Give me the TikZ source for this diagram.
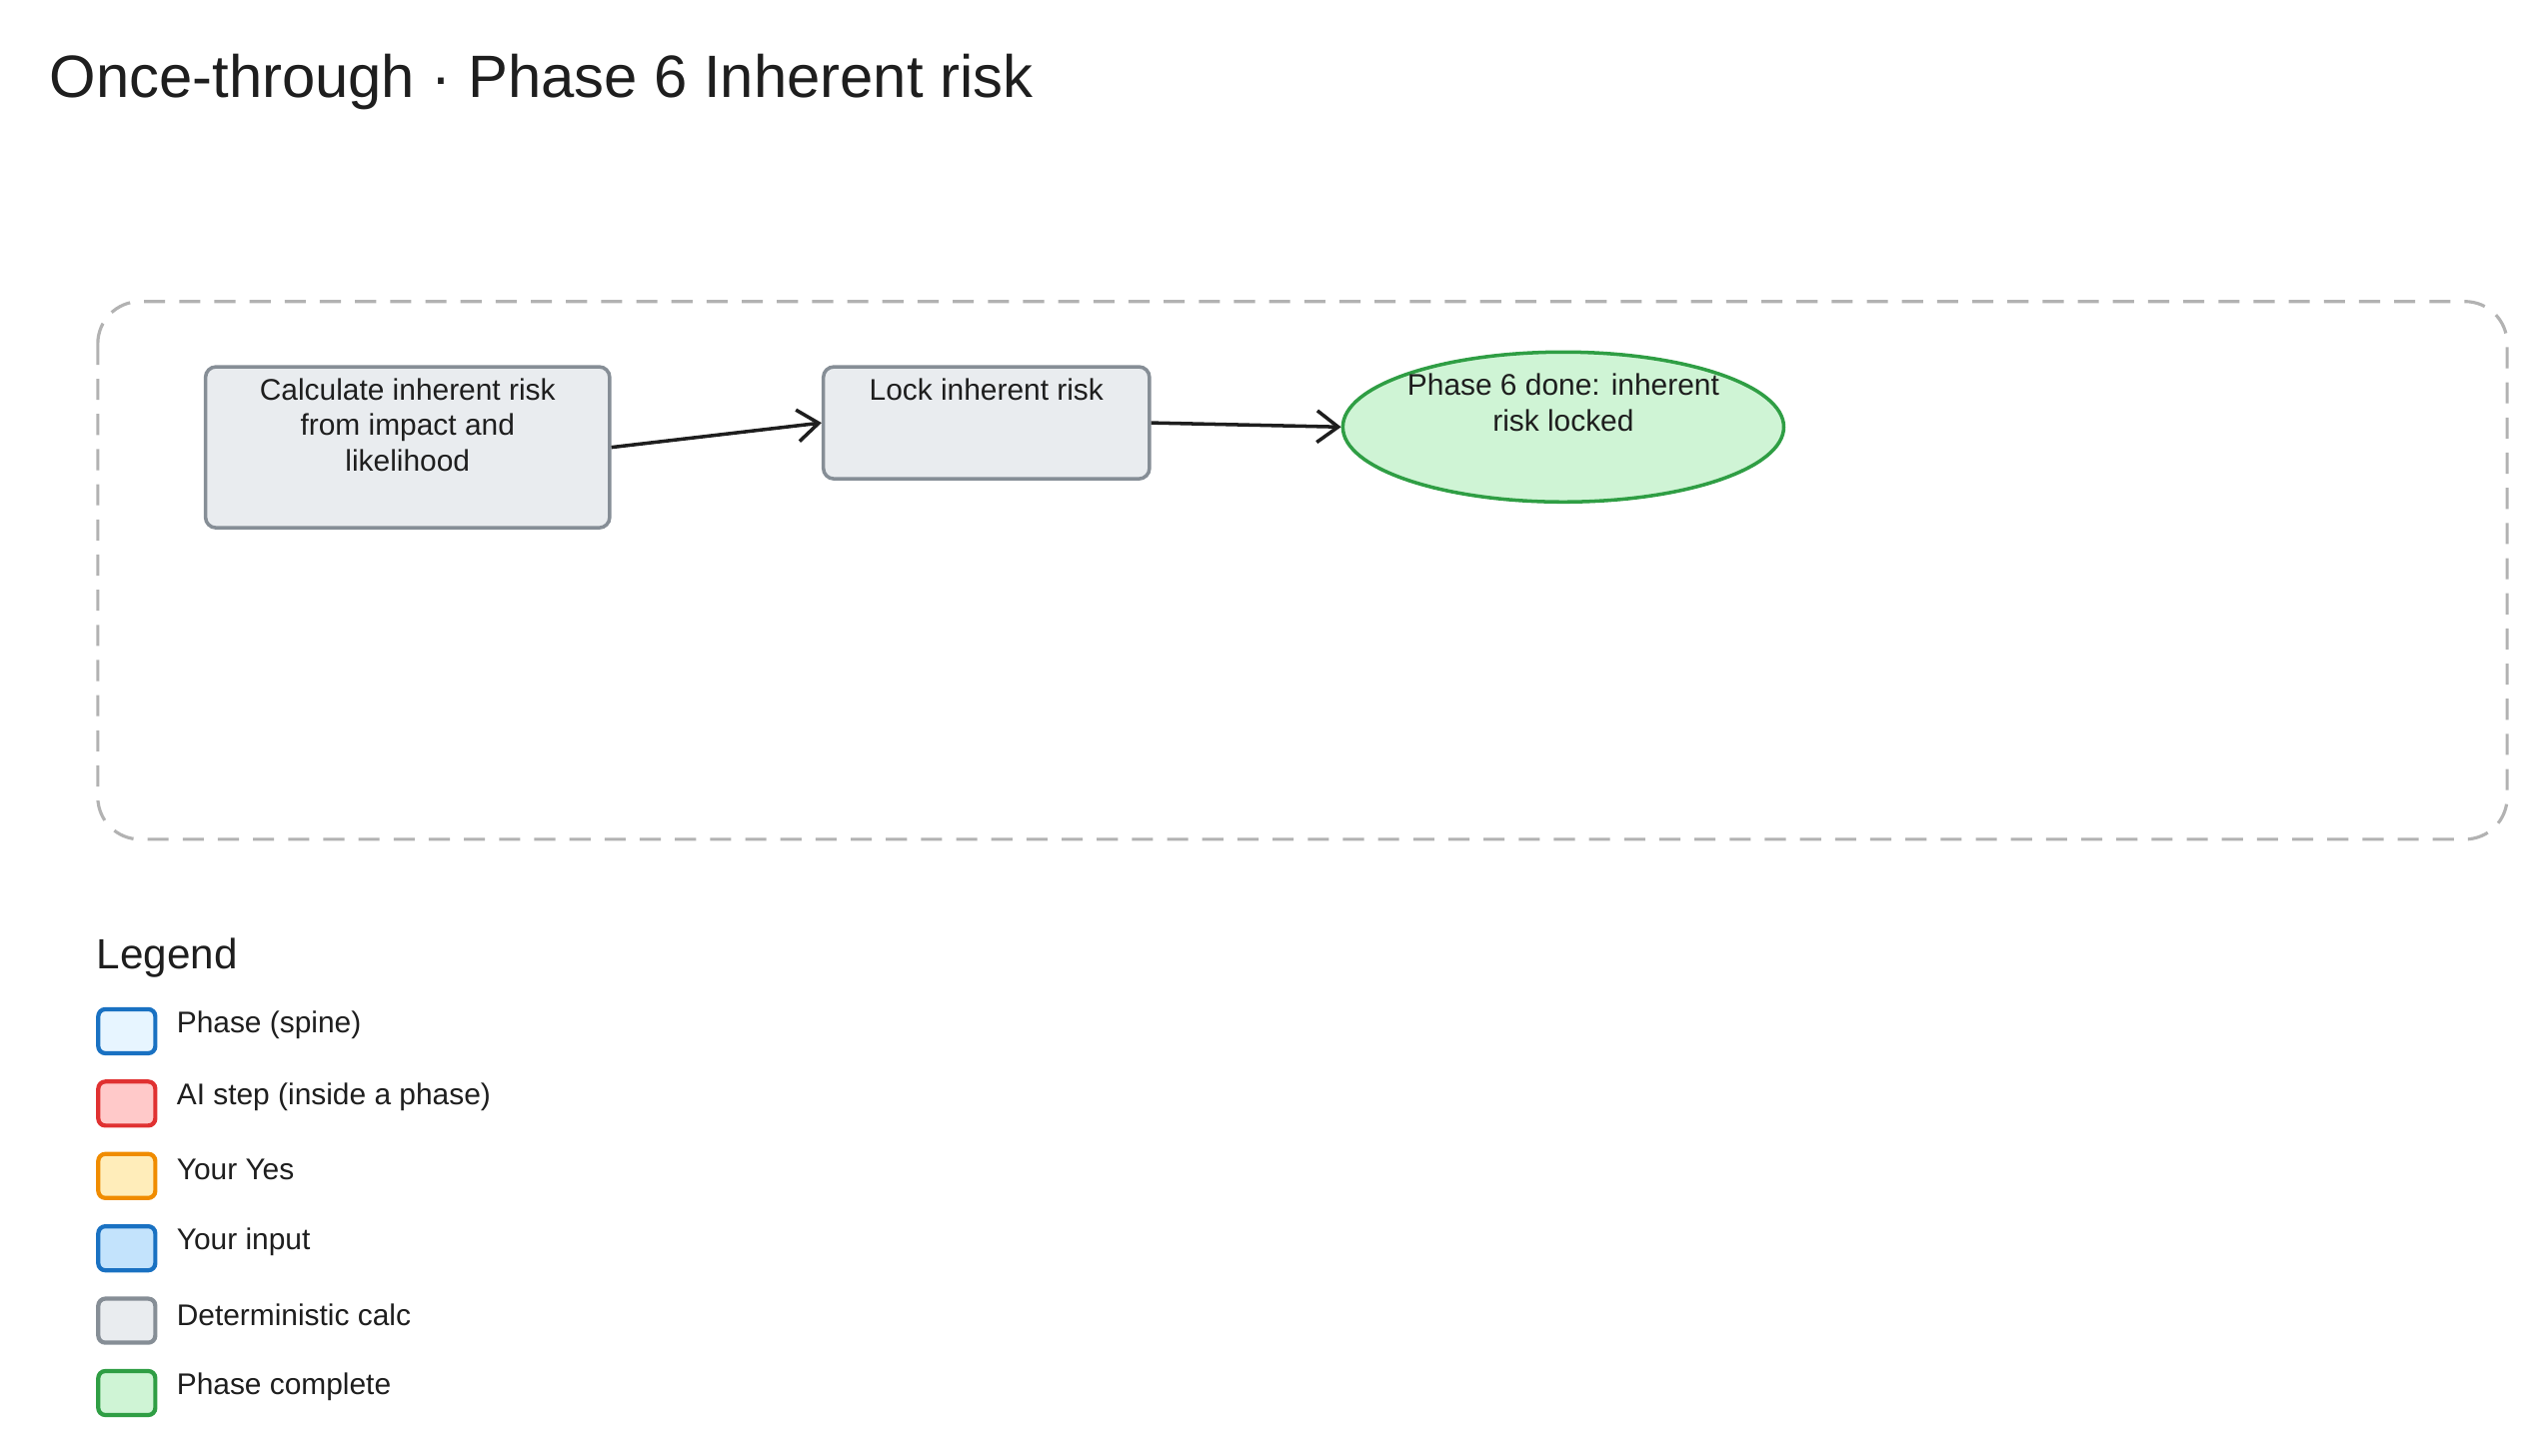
\documentclass[tikz,border=0pt]{standalone}
\usepackage{fontspec}
\setmainfont{Liberation Sans}
\usetikzlibrary{shapes.geometric,arrows.meta}
\definecolor{calcfill}{HTML}{E9ECEF}
\definecolor{calcdraw}{HTML}{868E96}
\definecolor{donefill}{HTML}{CFF4D5}
\definecolor{donedraw}{HTML}{2F9E44}
\definecolor{spinefill}{HTML}{E7F5FF}
\definecolor{spinedraw}{HTML}{1971C2}
\definecolor{aifill}{HTML}{FFC9C9}
\definecolor{aidraw}{HTML}{E03131}
\definecolor{askfill}{HTML}{FFEDBA}
\definecolor{askdraw}{HTML}{F08C00}
\definecolor{inputfill}{HTML}{C3E3FC}
\definecolor{inputdraw}{HTML}{1971C2}
\definecolor{ink}{HTML}{1E1E1E}
\tikzset{
  calcbox/.style={draw=calcdraw, fill=calcfill, line width=1pt, rounded corners=3pt,
    inner sep=0pt, anchor=north west, font=\fontsize{8.5}{10}\selectfont, text=ink},
  done/.style={ellipse, draw=donedraw, fill=donefill, line width=1pt,
    minimum width=3.88cm, minimum height=1.24cm, inner sep=0pt,
    font=\fontsize{8.5}{10}\selectfont, text=ink, align=center},
  flow/.style={-{Straight Barb[length=6pt,width=9pt]}, line width=1pt, draw=ink},
  key/.style={draw=#1draw, fill=#1fill, line width=1.2pt, rounded corners=2pt,
    minimum width=0.57cm, minimum height=0.44cm, inner sep=0pt, anchor=north west},
  keytext/.style={anchor=west, font=\fontsize{8.5}{10}\selectfont, text=ink, inner sep=0pt}
}
\begin{document}
\begin{tikzpicture}[x=0.0163cm, y=-0.0163cm]
  \useasboundingbox (0,0) rectangle (1560,893);
  \node[anchor=west, inner sep=0pt, font=\fontsize{17}{20}\selectfont, text=ink] (title) at (30,50)
    {Once-through · Phase 6 Inherent risk};
  % phase container
  \draw[dashed, dash pattern=on 6pt off 4pt, draw=gray!60, line width=0.9pt, rounded corners=12pt]
    (60,185) rectangle (1538,515);
  % steps
  \node[calcbox] (calc) at (125,224)
    {\parbox[t][1.61cm][t]{4.04cm}{\centering\vspace*{0.12cm}Calculate inherent risk\\from impact and\\likelihood}};
  \node[calcbox] (lock) at (504,224)
    {\parbox[t][1.12cm][t]{3.26cm}{\centering\vspace*{0.12cm}Lock inherent risk}};
  \node[done] (phasedone) at (959,262) {Phase 6 done: inherent\\risk locked\\[4pt]};
  \draw[flow] (calc.east) -- (lock.west);
  \draw[flow] (lock.east) -- (phasedone.west);
  % legend
  \node[anchor=west, inner sep=0pt, font=\fontsize{12}{14}\selectfont, text=ink] (legend) at (59,588) {Legend};
  \foreach \c/\t [count=\i from 0] in {spine/Phase (spine), ai/AI step (inside a phase),
      ask/Your Yes/No, input/Your input/review, calc/Deterministic calc, done/Phase complete} {
    \node[key=\c] (key\i) at (59,618+44.4*\i) {};
    \node[keytext] (keytext\i) at (108,629+44.4*\i) {\t};
  }
\end{tikzpicture}
\end{document}
